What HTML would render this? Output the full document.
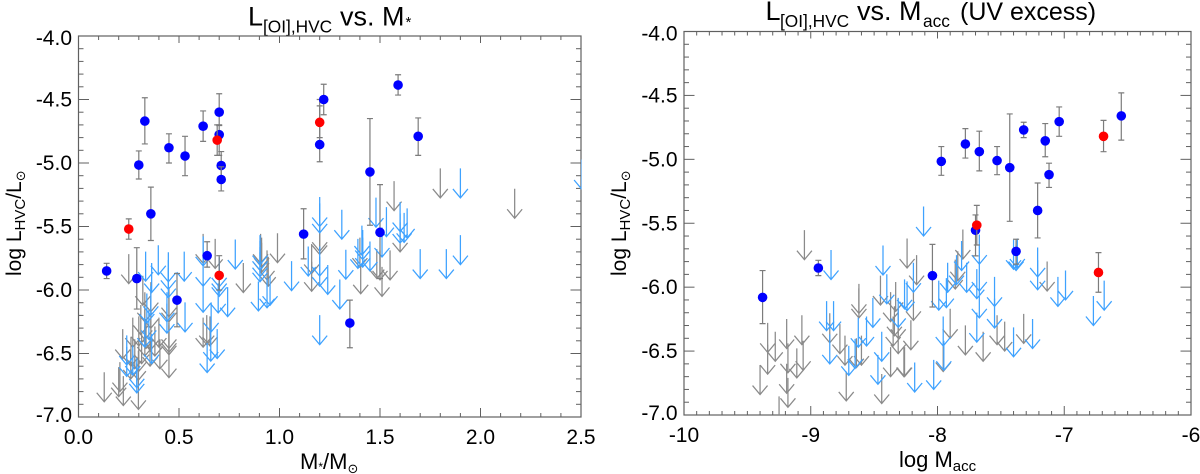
<!DOCTYPE html>
<html lang="en">
<head>
<meta charset="utf-8">
<title>L[OI],HVC vs. stellar mass and accretion rate</title>
<style>
html,body{margin:0;padding:0;background:#fff;}
svg{display:block;}
text{font-family:"Liberation Sans","DejaVu Sans",sans-serif;fill:#000;}
.sol{font-family:"DejaVu Sans",sans-serif;}
</style>
</head>
<body>
<svg id="figure" xmlns="http://www.w3.org/2000/svg" width="1200" height="474" viewBox="0 0 1200 474">
  <defs>
    <clipPath id="clip-left"><rect x="78.5" y="36" width="503" height="381"/></clipPath>
    <clipPath id="clip-right"><rect x="684" y="31.5" width="507" height="383.5"/></clipPath>
  </defs>
  <text y="25.5" font-size="27"><tspan x="248">L</tspan><tspan x="263" y="32.5" font-size="17.3">[OI],HVC</tspan><tspan x="340" y="25.5">vs. M</tspan><tspan x="405.5" y="27" font-size="15">*</tspan></text>
  <text y="20" font-size="27"><tspan x="765.5">L</tspan><tspan x="780" y="27" font-size="17.3">[OI],HVC</tspan><tspan x="857" y="20">vs. M</tspan><tspan x="923" y="27" font-size="17.3">acc</tspan><tspan x="960" y="20" font-size="25">(UV excess)</tspan></text>
  <text x="300" y="469" font-size="22">M<tspan font-size="12" dy="2">*</tspan><tspan dy="-2">/M</tspan><tspan class="sol" font-size="13" dy="4">⊙</tspan></text>
  <text x="899" y="467" font-size="22">log M<tspan font-size="15" dy="4">acc</tspan></text>
  <text transform="translate(21,276) rotate(-90)" font-size="21">log L<tspan font-size="15" dy="4">HVC</tspan><tspan dy="-4">/L</tspan><tspan class="sol" font-size="13" dy="4">⊙</tspan></text>
  <text transform="translate(626,276) rotate(-90)" font-size="21">log L<tspan font-size="15" dy="4">HVC</tspan><tspan dy="-4">/L</tspan><tspan class="sol" font-size="13" dy="4">⊙</tspan></text>
</svg>
<script>
// Shared y axis ticks
const yTickLabels = ['-4.0','-4.5','-5.0','-5.5','-6.0','-6.5','-7.0'];
const yTickValues = [-4,-4.5,-5,-5.5,-6,-6.5,-7];

// Left panel: stellar mass
const leftXTickValues = [0,0.5,1,1.5,2,2.5];
const leftXTickLabels = ['0.0','0.5','1.0','1.5','2.0','2.5'];
// [mass, logL, upper error end, lower error end]
const leftBlue = [
[.30,-5.016,-4.905,-5.126],[.33,-4.67,-4.486,-4.85],[.45,-4.88,-4.77,-5.0],[.53,-4.945,-4.79,-5.10],
[.62,-4.71,-4.59,-4.83],[.70,-4.60,-4.455,-4.705],[.70,-4.777,-4.70,-4.94],[.71,-5.02,-4.91,-5.12],
[.71,-5.13,-5.03,-5.22],[1.20,-4.855,-4.5,-4.99],[1.22,-4.50,-4.38,-4.62],[.36,-5.40,-5.19,-5.61],
[1.12,-5.56,-5.36,-5.755],[1.59,-4.386,-4.305,-4.465],[1.69,-4.79,-4.645,-4.94],[1.45,-5.07,-4.65,-5.49],
[1.50,-5.546,-5.17,-5.91],[1.35,-6.26,-6.08,-6.455],[.14,-5.85,-5.79,-5.91],[.29,-5.91,-5.667,-6.15],
[.49,-6.08,-5.87,-6.29],[.64,-5.73,-5.62,-5.82]];
const leftRed = [
[.69,-4.82,-4.70,-4.94],[1.20,-4.68,-4.55,-4.80],[.25,-5.52,-5.44,-5.60],[.70,-5.885,-5.73,-6.0]];
// [mass, logL at arrow tip]
const leftGrayLimits = [
[.128,-6.88],[.20,-6.84],[.223,-6.91],[.22,-6.54],[.261,-6.60],[.298,-6.94],[.298,-6.71],[.30,-6.64],[.30,-6.44],
[.33,-6.39],[.336,-6.46],[.36,-6.47],[.405,-6.62],[.45,-6.69],[.45,-6.51],[.45,-6.49],[.45,-6.46],[.206,-6.80],
[.314,-6.58],[.356,-6.60],[.25,-5.95],[.36,-6.17],[.32,-6.12],[.45,-6.21],[.45,-6.25],[.62,-6.45],[.638,-6.43],
[.654,-6.44],[.62,-5.79],[.68,-5.83],[.82,-6.02],[.906,-5.79],[.911,-5.82],[.911,-5.86],[.944,-5.97],[.938,-5.92],
[.99,-5.785],[1.16,-6.01],[1.16,-5.87],[1.20,-5.695],[1.20,-5.72],[1.404,-6.03],[1.51,-6.05],[1.50,-5.92],[1.55,-5.92],
[1.60,-5.70],[1.484,-5.91],[1.80,-5.275],[1.57,-5.375],[2.17,-5.435],[1.40,-5.82],
[.27,-6.45],[.31,-6.35],[.33,-6.25],[.36,-6.30],[.40,-6.45],[.38,-6.52],[.26,-6.70],[.28,-6.62],[.33,-6.52]];
const leftBlueLimits = [
[.24,-6.59],[.24,-6.68],[.29,-6.77],[.29,-6.81],[.34,-6.26],[.364,-6.58],[.35,-6.39],[.44,-6.25],[.44,-6.34],[.53,-6.33],
[.397,-5.88],[.364,-6.02],[.334,-5.93],[.447,-5.935],[.447,-5.995],[.447,-6.06],[.526,-5.93],[.62,-5.81],[.62,-5.97],[.62,-6.175],
[.66,-6.33],[.64,-6.65],[.658,-6.56],[.69,-6.54],[.70,-5.975],[.70,-6.02],[.70,-6.05],[.695,-6.18],[.742,-6.21],[.78,-5.835],
[.903,-5.80],[.903,-5.845],[.903,-5.895],[.903,-5.935],[.895,-6.165],[.938,-6.14],[.953,-6.12],[1.06,-6.005],[1.143,-5.89],
[1.20,-5.50],[1.20,-5.55],[1.20,-5.89],[1.20,-5.97],[1.24,-6.035],[1.20,-6.43],[1.30,-6.15],[1.33,-5.915],[1.31,-5.60],
[1.48,-5.505],[1.532,-5.58],[1.60,-5.54],[1.60,-5.63],[1.62,-5.625],[1.635,-5.59],[1.41,-5.725],[1.414,-5.76],[1.414,-5.82],
[1.39,-5.83],[1.45,-5.85],[1.51,-5.74],[1.70,-5.91],[1.83,-5.91],[1.90,-5.80],[1.90,-5.275],[2.503,-5.205],
[.36,-6.20],[.33,-6.45],[.27,-6.67]];

// Right panel: accretion rate
const rightXTickValues = [-10,-9,-8,-7,-6];
const rightXTickLabels = ['-10','-9','-8','-7','-6'];
const rightBlue = [
[-7.97,-5.016,-4.90,-5.125],[-7.78,-4.88,-4.76,-4.99],[-7.67,-4.94,-4.78,-5.09],[-7.53,-5.01,-4.90,-5.12],
[-7.43,-5.065,-4.645,-5.485],[-7.32,-4.77,-4.71,-4.83],[-7.15,-4.855,-4.72,-4.98],[-7.04,-4.705,-4.59,-4.82],
[-6.55,-4.66,-4.48,-4.85],[-7.12,-5.12,-5.03,-5.22],[-7.21,-5.40,-5.185,-5.615],[-7.70,-5.555,-5.435,-5.755],
[-7.38,-5.72,-5.625,-5.82],[-8.04,-5.91,-5.665,-6.155],[-9.38,-6.08,-5.87,-6.285],[-8.94,-5.85,-5.79,-5.91]];
const rightRed = [
[-6.69,-4.82,-4.695,-4.94],[-7.69,-5.515,-5.36,-5.67],[-6.73,-5.885,-5.73,-6.04]];
const rightGrayLimits = [
[-9.05,-5.785],[-9.34,-6.51],[-9.28,-6.58],[-9.34,-6.68],[-9.40,-6.84],[-9.19,-6.48],[-9.07,-6.45],[-9.18,-6.67],[-9.11,-6.71],
[-9.06,-6.65],[-9.19,-6.83],[-9.18,-6.94],[-9.25,-7.085],[-8.85,-6.435],[-8.77,-6.52],[-8.73,-6.61],[-8.64,-6.63],[-8.60,-6.61],
[-8.62,-6.24],[-8.62,-6.205],[-8.72,-6.89],[-8.45,-6.14],[-8.33,-6.19],[-8.37,-6.27],[-8.31,-6.40],[-8.34,-6.38],[-8.31,-6.52],
[-8.37,-6.70],[-8.26,-6.70],[-8.44,-6.91],[-8.19,-6.26],[-8.21,-6.49],[-8.165,-5.98],[-8.24,-5.85],[-8.35,-6.46],[-7.90,-6.40],
[-7.955,-6.66],[-7.78,-6.53],[-7.64,-6.58],[-7.53,-6.45],[-7.47,-6.50],[-7.32,-6.44],[-7.135,-6.03],[-7.80,-5.78],[-7.86,-6.015],
[-7.84,-5.95],[-8.265,-6.70]];
const rightBlueLimits = [
[-8.84,-5.94],[-8.875,-6.34],[-8.82,-6.34],[-8.85,-6.60],[-8.70,-6.69],[-8.65,-6.635],[-8.625,-6.47],[-8.56,-6.46],[-8.51,-6.315],
[-8.44,-6.58],[-8.47,-6.76],[-8.40,-6.13],[-8.43,-5.905],[-8.31,-6.315],[-8.26,-6.17],[-8.19,-6.04],[-8.18,-6.82],[-8.11,-5.60],
[-8.24,-6.185],[-8.03,-6.80],[-7.955,-6.46],[-7.95,-6.65],[-7.99,-6.18],[-7.93,-6.16],[-7.92,-6.04],[-7.85,-5.98],[-7.81,-5.87],
[-7.77,-6.04],[-7.69,-6.09],[-7.67,-6.03],[-7.67,-5.82],[-7.67,-6.24],[-7.69,-6.43],[-7.55,-6.15],[-7.55,-6.32],[-7.40,-6.545],
[-7.25,-6.48],[-7.38,-5.87],[-7.40,-5.86],[-7.37,-5.85],[-7.21,-5.92],[-7.21,-6.02],[-7.05,-6.15],[-6.99,-6.10],[-6.77,-6.30],[-6.685,-6.18]];

const SVGNS = 'http://www.w3.org/2000/svg';
const fig = document.getElementById('figure');
const GRAY = '#8a8a8a', LIMIT_BLUE = '#3ea2ff', AXIS = '#606060', ERR = '#7c7c7c';

function make(parent, tag, attrs) {
  const n = document.createElementNS(SVGNS, tag);
  for (const k in attrs) n.setAttribute(k, attrs[k]);
  parent.appendChild(n);
  return n;
}

function drawPanel(cfg) {
  const xs = v => cfg.x0 + (v - cfg.xMin) * (cfg.x1 - cfg.x0) / (cfg.xMax - cfg.xMin);
  const ys = v => cfg.y0 + (-4 - v) * (cfg.y1 - cfg.y0) / 3;

  const panel = make(fig, 'g', {});
  
  

  const frame = make(panel, 'rect', {x: cfg.x0, y: cfg.y0, width: cfg.x1 - cfg.x0, height: cfg.y1 - cfg.y0, fill: 'none', stroke: AXIS, 'stroke-width': 1.2});
  
  

  // y ticks, both sides
  for (let i = 0; i <= 30; i++) {
    const v = -4 - i * 0.1, major = i % 5 === 0, len = major ? 10.5 : 5;
    const yp = ys(v);
    const t1 = make(panel, 'line', {x1: cfg.x0, x2: cfg.x0 + len, y1: yp, y2: yp, stroke: AXIS, 'stroke-width': 1});
    
    
    const t2 = make(panel, 'line', {x1: cfg.x1, x2: cfg.x1 - len, y1: yp, y2: yp, stroke: AXIS, 'stroke-width': 1});
    
    
  }
  yTickValues.forEach((v, i) => {
    const lab = make(panel, 'text', {x: cfg.x0 - 6.5, y: ys(v) + 7 + (i === 0 ? 2 : 0) - (i === 6 ? 2 : 0), 'text-anchor': 'end', 'font-size': 21});
    lab.textContent = yTickLabels[i];
    
    
  });

  // x ticks, both sides
  const n = Math.round((cfg.xMax - cfg.xMin) / cfg.xMinor);
  for (let i = 0; i <= n; i++) {
    const v = cfg.xMin + i * cfg.xMinor, major = i % cfg.xEvery === 0;
    const xp = xs(v);
    const t1 = make(panel, 'line', {x1: xp, x2: xp, y1: cfg.y1, y2: cfg.y1 - (major ? 9 : 4), stroke: AXIS, 'stroke-width': 1});
    
    
    const t2 = make(panel, 'line', {x1: xp, x2: xp, y1: cfg.y0, y2: cfg.y0 + (major ? 7 : 4), stroke: AXIS, 'stroke-width': 1});
    
    
  }
  cfg.xTicks.forEach((v, i) => {
    const lab = make(panel, 'text', {x: xs(v), y: cfg.y1 + 27, 'text-anchor': 'middle', 'font-size': 21});
    lab.textContent = cfg.xLabels[i];
    
    
  });

  const marks = make(panel, 'g', {'clip-path': 'url(#' + cfg.clip + ')'});
  
  

  function arrow(d, color, nm) {
    const xp = xs(d[0]), tip = ys(d[1]);
    const a = make(marks, 'path', {
      d: 'M' + xp + ' ' + (tip - 29.5) + 'V' + tip + 'M' + (xp - 7.5) + ' ' + (tip - 9) + 'L' + xp + ' ' + tip + 'L' + (xp + 7.5) + ' ' + (tip - 9),
      fill: 'none', stroke: color, 'stroke-width': 1.25
    });
    
    
  }
  cfg.grayLimits.forEach(d => arrow(d, GRAY, 'upper-limit-gray'));
  cfg.blueLimits.forEach(d => arrow(d, LIMIT_BLUE, 'upper-limit-blue'));

  function detection(d, color, nm) {
    const xp = xs(d[0]), top = ys(d[2]), bot = ys(d[3]);
    const e = make(panel, 'path', {
      d: 'M' + xp + ' ' + top + 'V' + bot + 'M' + (xp - 3) + ' ' + top + 'H' + (xp + 3) + 'M' + (xp - 3) + ' ' + bot + 'H' + (xp + 3),
      fill: 'none', stroke: ERR, 'stroke-width': 1.2
    });
    
    
    const c = make(panel, 'circle', {cx: xp, cy: ys(d[1]), r: 4.8, fill: color});
    
    
  }
  cfg.blue.forEach(d => detection(d, '#0000ff', 'detection-point-blue'));
  cfg.red.forEach(d => detection(d, '#ff0000', 'detection-point-red'));
}

drawPanel({name: 'stellar-mass', clip: 'clip-left', x0: 78.5, x1: 581, y0: 36, y1: 417, xMin: 0, xMax: 2.5, xMinor: 0.1, xEvery: 5,
  xTicks: leftXTickValues, xLabels: leftXTickLabels, grayLimits: leftGrayLimits, blueLimits: leftBlueLimits, blue: leftBlue, red: leftRed});
drawPanel({name: 'accretion-rate', clip: 'clip-right', x0: 684, x1: 1191, y0: 31.5, y1: 415, xMin: -10, xMax: -6, xMinor: 0.1, xEvery: 10,
  xTicks: rightXTickValues, xLabels: rightXTickLabels, grayLimits: rightGrayLimits, blueLimits: rightBlueLimits, blue: rightBlue, red: rightRed});
</script>
</body>
</html>
